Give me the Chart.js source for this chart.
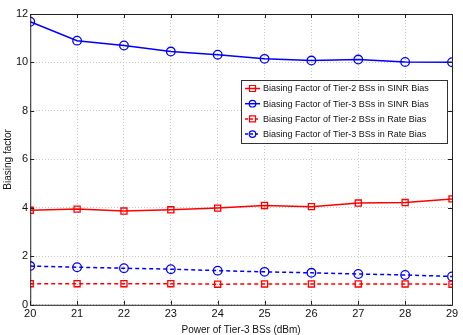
<!DOCTYPE html>
<html lang="en">
<head>
<meta charset="UTF-8">
<title>Biasing factor</title>
<style>
  body { margin: 0; background: #fff; }
  #wrap { width: 463px; height: 335px; }
</style>
</head>
<body>
<script src="https://cdn.jsdelivr.net/npm/chart.js@4.4.0/dist/chart.umd.min.js"></script>
<div id="wrap"><canvas id="chart1" width="463" height="335"></canvas></div>
<script>
    var power = [20, 21, 22, 23, 24, 25, 26, 27, 28, 29];
    var tier2Sinr = [3.90, 3.95, 3.87, 3.92, 3.99, 4.10, 4.05, 4.20, 4.22, 4.37];
    var tier3Sinr = [11.68, 10.90, 10.70, 10.45, 10.32, 10.15, 10.08, 10.12, 10.02, 10.01];
    var tier2Rate = [0.87, 0.87, 0.87, 0.87, 0.85, 0.86, 0.86, 0.86, 0.86, 0.85];
    var tier3Rate = [1.60, 1.55, 1.51, 1.47, 1.41, 1.36, 1.32, 1.27, 1.23, 1.17];
    var seriesNames = [
        "Biasing Factor of Tier-2 BSs in SINR Bias",
        "Biasing Factor of Tier-3 BSs in SINR Bias",
        "Biasing Factor of Tier-2 BSs in Rate Bias",
        "Biasing Factor of Tier-3 BSs in Rate Bias"
    ];

    var red = "#ff0000";
    var blue = "#0000ff";
    var font = "'Liberation Sans', Arial, sans-serif";

    function pts(values) {
        return values.map((v, i) => ({x: power[i], y: v}));
    }

    function makeSet(label, values, color, shape, dashed) {
        return {
            label: label,
            data: pts(values),
            borderColor: color,
            backgroundColor: "rgba(0,0,0,0)",
            borderWidth: 1.5,
            borderDash: dashed ? [4, 3] : [],
            pointStyle: shape,
            pointRadius: shape == 'rect' ? 4.3 : 4.3,
            pointBorderWidth: 1.3,
            pointBorderColor: color,
            pointBackgroundColor: "rgba(0,0,0,0)",
            tension: 0
        };
    }

    // matlab style box with inward ticks and a legend drawn inside the plot
    var matlabBox = {
        id: 'matlabBox',
        afterDatasetsDraw(chart) {
            let ctx = chart.ctx;
            let a = chart.chartArea;
            let xs = chart.scales.x, ys = chart.scales.y;
            ctx.save();
            ctx.strokeStyle = "#222";
            ctx.lineWidth = 1;
            ctx.strokeRect(a.left + 0.5, a.top + 0.5, a.right - a.left, a.bottom - a.top);
            ctx.beginPath();
            xs.ticks.forEach(t => {
                let px = Math.round(xs.getPixelForValue(t.value)) + 0.5;
                ctx.moveTo(px, a.bottom); ctx.lineTo(px, a.bottom - 4);
                ctx.moveTo(px, a.top); ctx.lineTo(px, a.top + 4);
            });
            ys.ticks.forEach(t => {
                let py = Math.round(ys.getPixelForValue(t.value)) + 0.5;
                ctx.moveTo(a.left, py); ctx.lineTo(a.left + 4, py);
                ctx.moveTo(a.right, py); ctx.lineTo(a.right - 4, py);
            });
            ctx.stroke();

            // legend
            let bx = 241, by = 80, bw = 206, bh = 63;
            ctx.fillStyle = "#fff";
            ctx.fillRect(bx, by, bw, bh);
            ctx.strokeStyle = "#333";
            ctx.strokeRect(bx + 0.5, by + 0.5, bw, bh);
            ctx.font = "9px " + font;
            ctx.textBaseline = "middle";
            chart.data.datasets.forEach((ds, i) => {
                let cy = by + 8.5 + i * 15.2;
                ctx.strokeStyle = ds.borderColor;
                ctx.lineWidth = 1.5;
                ctx.setLineDash(ds.borderDash.length ? [3, 2] : []);
                ctx.beginPath();
                ctx.moveTo(bx + 4, cy); ctx.lineTo(bx + 19, cy);
                ctx.stroke();
                ctx.setLineDash([]);
                ctx.lineWidth = 1.2;
                ctx.beginPath();
                if (ds.pointStyle == 'rect') {
                    ctx.rect(bx + 8.5, cy - 3, 6, 6);
                } else {
                    ctx.arc(bx + 11.5, cy, 3.3, 0, Math.PI * 2);
                }
                ctx.stroke();
                ctx.fillStyle = "#111";
                ctx.fillText(ds.label, bx + 22, cy + 0.5);
            });
            ctx.restore();
        }
    };

    var context1 = document.getElementById('chart1').getContext('2d');
    window.chart1 = new Chart(context1, {
        type: 'line',
        data: {
            datasets: [
                makeSet(seriesNames[0], tier2Sinr, red, 'rect', false),
                makeSet(seriesNames[1], tier3Sinr, blue, 'circle', false),
                makeSet(seriesNames[2], tier2Rate, red, 'rect', true),
                makeSet(seriesNames[3], tier3Rate, blue, 'circle', true)
            ]
        },
        options: {
            responsive: false,
            animation: false,
            layout: { padding: { left: 2, right: 11, top: 14, bottom: -1 } },
            plugins: { legend: { display: false }, tooltip: { enabled: false } },
            scales: {
                x: {
                    type: 'linear',
                    min: 20, max: 29,
                    grid: { color: "#c8c8c8", drawTicks: false },
                    border: { display: false, dash: [1, 2] },
                    ticks: { stepSize: 1, color: "#111", padding: 3, font: { family: font, size: 11 } },
                    title: { display: true, text: "Power of Tier-3 BSs (dBm)", color: "#111", padding: 0, font: { family: font, size: 10 } }
                },
                y: {
                    min: 0, max: 12,
                    grid: { color: "#c8c8c8", drawTicks: false },
                    border: { display: false, dash: [1, 2] },
                    ticks: { stepSize: 2, color: "#111", padding: 2, font: { family: font, size: 11 } },
                    title: { display: true, text: "Biasing factor", color: "#111", padding: 0, font: { family: font, size: 10 } }
                }
            }
        },
        plugins: [matlabBox]
    });
</script>
</body>
</html>
